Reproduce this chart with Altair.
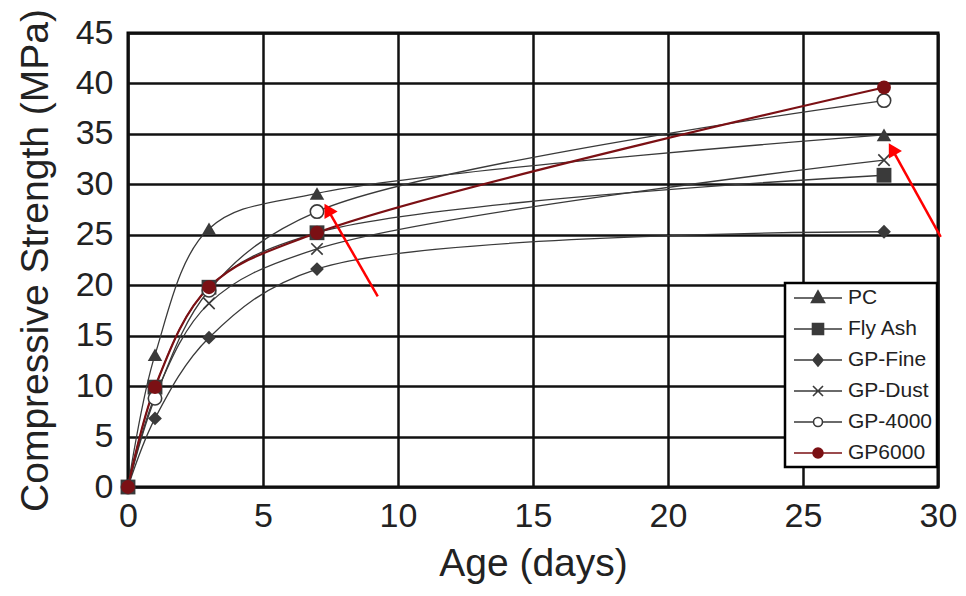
import altair as alt
import pandas as pd

# ---------------- data ----------------
days = [0, 1, 3, 7, 28]
series_names = ["PC", "Fly Ash", "GP-Fine", "GP-Dust", "GP-4000", "GP6000"]
pc = [0, 13.1, 25.6, 29.1, 34.9]
fly_ash = [0, 9.9, 19.8, 25.2, 30.9]
gp_fine = [0, 6.8, 14.8, 21.6, 25.3]
gp_dust = [0, 9.0, 18.2, 23.6, 32.4]
gp_4000 = [0, 8.8, 19.5, 27.3, 38.3]
gp_6000 = [0, 9.9, 19.8, 25.2, 39.6]

x_ticks = [0, 5, 10, 15, 20, 25, 30]
y_ticks = [0, 5, 10, 15, 20, 25, 30, 35, 40, 45]

# red annotation arrows (tail -> head), in data units
arrow_tail_x = [9.25, 30.1]
arrow_tail_y = [18.9, 24.8]
arrow_head_x = [7.4, 28.3]
arrow_head_y = [27.5, 33.5]

# ---------------- styling ----------------
FONT = "Liberation Sans"
GRAY = "#3a3a3a"
RED = "#7b1014"
X_PATH = "M-1,-1L1,1M-1,1L1,-1"

values = [pc, fly_ash, gp_fine, gp_dust, gp_4000, gp_6000]
styles = {
    "PC": dict(shape="triangle-up", size=210, filled=True, color=GRAY, line=GRAY, lw=1.3),
    "Fly Ash": dict(shape="square", size=220, filled=True, color=GRAY, line=GRAY, lw=1.3),
    "GP-Fine": dict(shape="diamond", size=190, filled=True, color=GRAY, line=GRAY, lw=1.3),
    "GP-Dust": dict(shape=X_PATH, size=130, filled=False, color=GRAY, line=GRAY, lw=1.3),
    "GP-4000": dict(shape="circle", size=180, filled=False, color=GRAY, line=GRAY, lw=1.3),
    "GP6000": dict(shape="circle", size=190, filled=True, color=RED, line=RED, lw=2.2),
}

LINE = "M-2.4,0L2.4,0"
legend_paths = [
    LINE + "M0,-0.7L0.65,0.45L-0.65,0.45Z",
    LINE + "M-0.55,-0.55L0.55,-0.55L0.55,0.55L-0.55,0.55Z",
    LINE + "M0,-0.6L0.5,0L0,0.6L-0.5,0Z",
    LINE + "M-0.5,-0.5L0.5,0.5M-0.5,0.5L0.5,-0.5",
    "M-2.4,0L-0.45,0M0.45,0L2.4,0M0.45,0A0.45,0.45 0 1,1 -0.45,0A0.45,0.45 0 1,1 0.45,0Z",
    LINE + "M0.5,0A0.5,0.5 0 1,1 -0.5,0A0.5,0.5 0 1,1 0.5,0Z",
]
legend_fills = [GRAY, GRAY, GRAY, GRAY, "white", RED]
legend_strokes = [GRAY, GRAY, GRAY, GRAY, GRAY, RED]

rows = []
for name, vals in zip(series_names, values):
    for d, v in zip(days, vals):
        rows.append({"series": name, "day": d, "strength": v})
df = pd.DataFrame(rows)

x_enc = alt.X(
    "day:Q",
    scale=alt.Scale(domain=[0, 30], nice=False),
    axis=alt.Axis(
        values=x_ticks, grid=True, gridColor="#111111", gridWidth=2.5,
        domain=False, ticks=False, labelFont=FONT, labelFontSize=34,
        labelColor="#222222", labelPadding=12, labelFlush=False,
        title="Age (days)", titleFont=FONT, titleFontSize=39,
        titleFontWeight="normal", titleColor="#222222", titlePadding=11,
    ),
)
y_enc = alt.Y(
    "strength:Q",
    scale=alt.Scale(domain=[0, 45], nice=False),
    axis=alt.Axis(
        values=y_ticks, grid=True, gridColor="#111111", gridWidth=2.5,
        domain=False, ticks=False, labelFont=FONT, labelFontSize=34,
        labelColor="#222222", labelPadding=15, labelFlush=False,
        title="Compressive Strength (MPa)", titleFont=FONT, titleFontSize=39,
        titleFontWeight="normal", titleColor="#222222", titlePadding=20,
    ),
)

layers = []
for name in series_names:
    st = styles[name]
    sub = df[df["series"] == name]
    layers.append(
        alt.Chart(sub).mark_line(interpolate="catmull-rom", color=st["line"],
                                 strokeWidth=st["lw"]).encode(x=x_enc, y=y_enc)
    )
for name in series_names:
    st = styles[name]
    sub = df[df["series"] == name]
    if st["filled"]:
        mk = alt.Chart(sub).mark_point(shape=st["shape"], size=st["size"], filled=True,
                                       color=st["color"], opacity=1)
    else:
        mk = alt.Chart(sub).mark_point(shape=st["shape"], size=st["size"], filled=False,
                                       color=st["color"], fill="white", fillOpacity=1 if st["shape"] == "circle" else 0,
                                       strokeWidth=1.6, opacity=1)
    layers.append(mk.encode(x=x_enc, y=y_enc))

# legend layer (no visible marks, only the legend)
legend_layer = alt.Chart(df).transform_filter("false").mark_point(opacity=1).encode(
    x=x_enc, y=y_enc,
    shape=alt.Shape(
        "series:N",
        scale=alt.Scale(domain=series_names, range=legend_paths),
        legend=alt.Legend(
            title=None, orient="none", legendX=657, legendY=250,
            symbolSize=400, symbolStrokeWidth=1.6, symbolOffset=18,
            labelOffset=19, labelFont=FONT, labelFontSize=21, labelColor="#222222",
            rowPadding=10, padding=4,
        ),
    ),
    fill=alt.Fill("series:N", scale=alt.Scale(domain=series_names, range=legend_fills)),
    stroke=alt.Stroke("series:N", scale=alt.Scale(domain=series_names, range=legend_strokes)),
)
layers.append(legend_layer)

arrows = pd.DataFrame({"tx": arrow_tail_x, "ty": arrow_tail_y,
                       "hx": arrow_head_x, "hy": arrow_head_y})
arrow_lines = alt.Chart(arrows).mark_rule(color="#ff0000", strokeWidth=2.5).encode(
    x="tx:Q", y="ty:Q", x2="hx:Q", y2="hy:Q")
arrow_heads = alt.Chart(arrows).mark_point(shape="triangle-up", filled=True, color="#ff0000",
                                           size=230, angle=330, opacity=1).encode(
    x="hx:Q", y="hy:Q")
layers += [arrow_lines, arrow_heads]

chart = alt.layer(*layers).properties(
    width=810, height=454,
    autosize=alt.AutoSizeParams(type="none"),
    padding={"left": 120, "top": 25, "right": 20, "bottom": 101},
    background="white",
).configure_view(
    stroke="black", strokeWidth=3
).configure_legend(
    strokeColor="black", strokeWidth=2.5, fillColor="white"
)

chart.save("out.html", embed_options={"renderer": "svg", "actions": False})
